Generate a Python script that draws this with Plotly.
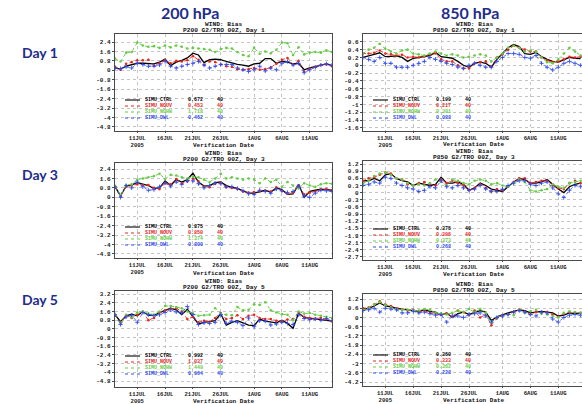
import pandas as pd
import plotly.graph_objects as go

W, H = 582, 404

# Verification dates (00Z), 40 cases
dates = pd.date_range("2005-07-07", periods=40, freq="D")

series_names = ["SIMU_CTRL", "SIMU_NOUV", "SIMU_NOHW", "SIMU_DWL"]
series_colors = ["#000000", "#E8261C", "#66CC44", "#2F4BF0"]
case_count = "40"

# ---- P200, Day 1 ----
p200_d1_ctrl = [0.2, 0.1, 0.35, 0.45, 0.6, 0.6, 0.55, 0.55, 0.7, 0.95,
                0.4, 0.7, 0.85, 1.05, 1.45, 1.3, 0.65, 0.9, 0.95, 0.9,
                0.75, 0.6, 0.5, 0.45, 0.35, 0.55, 0.6, 1.0, 1.0, 0.6,
                0.75, 0.7, 0.55, 0.6, 0.05, 0.2, 0.3, 0.45, 0.55, 0.4]
p200_d1_nouv = [0.3, 0.05, 0.55, 0.7, 0.85, 0.85, 0.9, 0.4, 0.6, 0.85,
                0.6, 0.8, 0.75, 0.85, 1.2, 0.9, 0.45, 0.75, 0.7, 0.5,
                0.35, 0.3, 0.1, 0.05, 0.1, 0.2, 0.05, 0.1, 0.25, 0.55,
                0.9, 1.05, 0.5, 0.8, -0.1, 0.15, 0.3, 0.45, 0.5, 0.35]
p200_d1_nohw = [1.0, 0.75, 1.5, 1.55, 2.35, 2.1, 2.0, 2.05, 1.9, 2.1,
                1.95, 2.1, 2.0, 1.85, 1.9, 1.85, 1.8, 1.75, 1.55, 1.8,
                1.9, 1.85, 1.55, 1.3, 1.2, 1.9, 1.4, 1.6, 1.45, 1.75,
                2.35, 2.3, 1.3, 1.95, 1.35, 1.5, 1.55, 1.5, 1.7, 1.55]
p200_d1_dwl = [0.2, 0.15, 0.3, 0.2, 0.6, 0.5, 0.35, 0.35, 0.45, 0.75,
               0.35, 0.2, 0.35, 0.5, 0.6, 0.75, 0.45, 0.2, 0.35, 0.5,
               0.5, 0.5, 0.2, 0.05, -0.1, 0.05, 0.35, -0.05, 0.2, 0.05,
               0.6, 0.75, 0.45, 0.6, -0.2, 0.05, 0.25, 0.45, 0.55, 0.45]
p200_d1_means = ["0.672", "0.453", "1.718", "0.462"]

# ---- P850, Day 1 ----
p850_d1_ctrl = [0.2, 0.25, 0.28, 0.32, 0.22, 0.23, 0.24, 0.2, 0.1, 0.18,
                0.2, 0.22, 0.25, 0.33, 0.22, 0.2, 0.18, 0.1, 0.0, -0.05,
                0.05, 0.08, 0.05, -0.05, 0.15, 0.3, 0.45, 0.53, 0.48, 0.3,
                0.28, 0.33, 0.22, 0.15, 0.1, 0.08, 0.15, 0.2, 0.18, 0.17]
p850_d1_nouv = [0.3, 0.3, 0.32, 0.38, 0.3, 0.28, 0.25, 0.27, 0.2, 0.22,
                0.2, 0.23, 0.28, 0.3, 0.15, 0.1, 0.1, 0.0, -0.08, -0.08,
                0.05, 0.08, 0.1, -0.03, 0.2, 0.28, 0.4, 0.5, 0.45, 0.4,
                0.35, 0.35, 0.2, 0.12, 0.08, 0.1, 0.15, 0.22, 0.2, 0.22]
p850_d1_nohw = [0.3, 0.4, 0.45, 0.55, 0.42, 0.35, 0.3, 0.38, 0.4, 0.3,
                0.28, 0.25, 0.3, 0.35, 0.3, 0.25, 0.28, 0.25, 0.2, 0.22,
                0.25, 0.28, 0.25, 0.1, 0.2, 0.3, 0.45, 0.5, 0.45, 0.35,
                0.38, 0.35, 0.2, 0.08, 0.05, 0.15, 0.3, 0.45, 0.35, 0.25]
p850_d1_dwl = [0.2, 0.15, 0.1, 0.2, 0.05, 0.05, -0.05, -0.05, -0.05, 0.0,
               0.05, 0.1, 0.2, 0.15, 0.1, 0.05, 0.02, -0.05, -0.08, 0.0,
               0.05, 0.0, -0.05, -0.05, 0.1, 0.2, 0.3, 0.3, 0.28, 0.2,
               0.18, 0.25, 0.05, -0.05, -0.12, -0.05, 0.05, 0.1, 0.05, 0.0]
p850_d1_means = ["0.199", "0.217", "0.301", "0.088"]

# ---- P200, Day 3 ----
p200_d3_ctrl = [0.9, 0.15, 0.95, 1.05, 1.25, 1.1, 1.0, 0.75, 0.8, 1.4,
                1.0, 1.5, 1.3, 1.5, 2.05, 1.3, 0.95, 1.0, 1.25, 1.3,
                1.0, 0.85, 0.75, 0.55, 0.35, 0.35, 0.45, 0.6, 0.45, 0.8,
                0.65, 0.25, 0.3, 1.1, 0.0, 0.5, 0.6, 0.7, 0.65, 0.6]
p200_d3_nouv = [0.85, 0.1, 0.9, 1.0, 1.1, 1.05, 1.05, 0.8, 0.7, 1.2,
                1.1, 1.55, 1.2, 1.35, 1.6, 1.35, 0.9, 0.85, 1.15, 1.25,
                0.85, 0.8, 0.7, 0.5, 0.4, 0.45, 0.5, 0.55, 0.5, 0.85,
                0.55, 0.3, 0.4, 1.0, 0.25, 0.4, 0.5, 0.65, 0.7, 0.6]
p200_d3_nohw = [0.95, 0.2, 1.05, 1.1, 1.5, 1.6, 1.7, 1.8, 2.0, 1.55,
                1.9, 1.85, 1.7, 1.6, 1.75, 1.7, 1.5, 1.3, 1.6, 2.0,
                1.6, 1.7, 1.6, 1.5, 1.6, 1.5, 1.2, 1.6, 1.3, 1.5,
                0.9, 1.3, 1.0, 0.75, 1.2, 1.0, 0.9, 1.1, 1.2, 1.15]
p200_d3_dwl = [0.9, 0.0, 1.0, 0.8, 1.3, 0.9, 0.6, 0.65, 0.9, 1.2,
               0.95, 1.3, 1.1, 1.4, 1.4, 1.15, 0.8, 1.0, 1.2, 1.15,
               0.9, 0.9, 0.75, 0.55, 0.3, 0.25, 0.6, 0.5, 0.35, 0.7,
               0.55, 0.4, 0.5, 0.95, 0.1, 0.0, 0.35, 0.6, 0.55, 0.5]
p200_d3_means = ["0.875", "0.850", "1.374", "0.800"]

# ---- P850, Day 3 ----
p850_d3_ctrl = [0.5, 0.5, 0.6, 0.5, 0.75, 0.8, 0.6, 0.5, 0.45, 0.3,
                0.4, 0.35, 0.3, 0.35, 0.65, 0.4, 0.4, 0.45, 0.35, 0.1,
                0.2, 0.4, 0.3, 0.15, 0.1, 0.05, 0.25, 0.45, 0.6, 0.55,
                0.4, 0.4, 0.45, 0.55, 0.35, 0.15, 0.0, 0.25, 0.35, 0.4]
p850_d3_nouv = [0.5, 0.6, 0.65, 0.75, 0.85, 0.8, 0.6, 0.55, 0.35, 0.3,
                0.4, 0.45, 0.35, 0.3, 0.55, 0.4, 0.5, 0.4, 0.3, 0.1,
                0.2, 0.35, 0.2, 0.05, 0.15, 0.1, 0.25, 0.45, 0.6, 0.6,
                0.4, 0.45, 0.5, 0.5, 0.3, 0.2, 0.15, 0.4, 0.5, 0.4]
p850_d3_nohw = [0.4, 0.5, 0.7, 0.8, 0.85, 0.75, 0.6, 0.55, 0.4, 0.3,
                0.35, 0.3, 0.4, 0.55, 0.45, 0.3, 0.55, 0.5, 0.4, 0.35,
                0.5, 0.55, 0.5, 0.35, 0.4, 0.3, 0.25, 0.4, 0.55, 0.45,
                0.1, 0.05, 0.1, 0.15, 0.35, 0.25, 0.2, 0.4, 0.45, 0.5]
p850_d3_dwl = [0.3, 0.35, 0.45, 0.4, 0.65, 0.6, 0.4, 0.3, 0.2, 0.15,
               0.05, 0.1, 0.25, 0.2, 0.5, 0.25, 0.2, 0.3, 0.2, 0.1,
               0.15, 0.3, 0.15, 0.05, 0.05, 0.15, 0.3, 0.4, 0.5, 0.5,
               0.35, 0.3, 0.4, 0.45, 0.2, -0.05, -0.2, 0.1, 0.3, 0.25]
p850_d3_means = ["0.375", "0.396", "0.373", "0.268"]

# ---- P200, Day 5 ----
p200_d5_ctrl = [1.3, 0.65, 1.2, 1.35, 1.2, 1.6, 1.25, 1.25, 1.5, 1.7,
                1.9, 1.75, 1.3, 1.8, 1.1, 0.45, 0.6, 0.65, 0.75, 1.4,
                0.35, 0.6, 0.75, 0.55, 0.35, 0.3, 0.9, 0.7, 0.6, 0.55,
                0.8, 0.5, 0.05, 1.45, 1.05, 0.95, 0.9, 0.85, 0.8, 0.7]
p200_d5_nouv = [1.2, 0.6, 1.25, 1.0, 1.3, 1.55, 0.8, 1.0, 1.5, 1.7,
                1.85, 1.9, 1.6, 0.9, 1.1, 0.6, 0.75, 0.65, 1.0, 1.45,
                0.9, 1.0, 1.25, 0.9, 1.2, 1.3, 1.0, 0.9, 0.9, 0.75,
                0.7, 0.85, 0.9, 1.45, 1.1, 1.0, 0.95, 1.0, 0.9, 0.7]
p200_d5_nohw = [1.3, 0.5, 1.3, 1.05, 1.5, 1.6, 1.4, 1.3, 1.6, 2.1,
                2.1, 2.0, 1.9, 1.6, 1.4, 1.2, 1.25, 1.3, 1.9, 1.4,
                1.3, 1.25, 2.0, 1.7, 1.75, 2.25, 2.2, 2.45, 1.7, 1.5,
                1.35, 1.3, 0.8, 1.6, 1.4, 1.45, 1.3, 1.2, 1.1, 1.0]
p200_d5_dwl = [1.3, 0.4, 1.1, 1.25, 0.6, 1.5, 1.3, 1.2, 1.3, 1.5,
               1.75, 1.55, 1.5, 2.05, 1.3, 0.4, 0.55, 0.5, 0.6, 1.3,
               0.5, 0.7, 0.6, 0.3, 1.0, 0.2, 0.75, 0.7, 0.35, 0.45,
               0.6, 0.5, 0.4, 1.3, 0.95, 0.85, 0.9, 0.8, 0.95, 0.75]
p200_d5_means = ["0.992", "1.037", "1.449", "0.964"]

# ---- P850, Day 5 ----
p850_d5_ctrl = [0.55, 0.6, 0.75, 0.95, 0.75, 0.7, 0.6, 0.55, 0.5, 0.45,
                0.4, 0.5, 0.4, 0.35, 0.15, 0.3, 0.0, 0.25, 0.35, 0.2,
                0.35, 0.45, 0.35, -0.2, 0.05, 0.2, 0.3, 0.4, 0.5, 0.45,
                0.3, 0.35, 0.4, 0.35, 0.3, 0.1, 0.15, 0.3, 0.25, 0.3]
p850_d5_nouv = [0.6, 0.65, 0.85, 1.05, 0.85, 0.75, 0.6, 0.5, 0.45, 0.5,
                0.35, 0.45, 0.3, 0.25, 0.2, 0.25, 0.05, 0.45, 0.35, 0.15,
                0.45, 0.0, 0.2, -0.5, -0.05, 0.15, 0.2, 0.35, 0.5, 0.35,
                0.2, 0.35, 0.3, 0.35, 0.2, 0.05, 0.25, 0.35, 0.3, 0.3]
p850_d5_nohw = [0.5, 0.6, 0.85, 1.0, 0.8, 0.65, 0.55, 0.5, 0.5, 0.45,
                0.45, 0.55, 0.5, 0.3, 0.25, 0.2, 0.3, 0.45, 0.35, 0.55,
                0.35, 0.55, 0.3, -0.35, 0.0, 0.1, 0.2, 0.15, 0.45, 0.3,
                0.4, 0.5, 0.25, 0.2, 0.1, 0.0, 0.3, 0.4, 0.35, 0.3]
p850_d5_dwl = [0.45, 0.5, 0.6, 0.35, 0.6, 0.55, 0.5, 0.3, 0.3, 0.4,
               0.3, 0.35, 0.25, 0.15, 0.2, -0.3, 0.1, 0.1, 0.0, 0.2,
               0.25, 0.3, 0.1, -0.3, 0.0, 0.1, 0.2, 0.35, 0.45, 0.35,
               0.2, 0.1, 0.35, 0.3, -0.1, -0.3, 0.0, 0.15, 0.2, 0.15]
p850_d5_means = ["0.360", "0.333", "0.362", "0.228"]

# Axis ticks
yticks_200 = [2.4, 1.6, 0.8, 0, -0.8, -1.6, -2.4, -3.2, -4, -4.8]
yticks_200_d5 = [3.2, 2.4, 1.6, 0.8, 0, -0.8, -1.6, -2.4, -3.2, -4, -4.8]
yticks_850_d1 = [0.6, 0.4, 0.2, 0, -0.2, -0.4, -0.6, -0.8, -1, -1.2, -1.4, -1.6]
yticks_850_d3 = [1.2, 0.9, 0.6, 0.3, 0, -0.3, -0.6, -0.9, -1.2, -1.5, -1.8, -2.1, -2.4, -2.7]
yticks_850_d5 = [1.2, 0.6, 0, -0.6, -1.2, -1.8, -2.4, -3, -3.6, -4.2]
xtick_dates = ["2005-07-11", "2005-07-16", "2005-07-21", "2005-07-26",
               "2005-08-01", "2005-08-06", "2005-08-11"]
xtick_text = ["11JUL<br>2005", "16JUL", "21JUL", "26JUL", "1AUG", "6AUG", "11AUG"]

# Panel layout in pixels: (left, right, top, bottom), y-range, x end,
# offset of the "Verification Date" caption below the frame
panels = [
    dict(lev="P200", day=1, data=[p200_d1_ctrl, p200_d1_nouv, p200_d1_nohw, p200_d1_dwl],
         means=p200_d1_means, yt=yticks_200, yr=[-5.14, 3.08], box=(115, 332, 34, 131),
         xend="2005-08-15", xlab=14.5),
    dict(lev="P850", day=1, data=[p850_d1_ctrl, p850_d1_nouv, p850_d1_nohw, p850_d1_dwl],
         means=p850_d1_means, yt=yticks_850_d1, yr=[-1.68, 0.80], box=(363, 582, 34, 131),
         xend="2005-08-15 06:00", xlab=13.5),
    dict(lev="P200", day=3, data=[p200_d3_ctrl, p200_d3_nouv, p200_d3_nohw, p200_d3_dwl],
         means=p200_d3_means, yt=yticks_200, yr=[-5.14, 2.91], box=(115, 332, 163, 258),
         xend="2005-08-15", xlab=15),
    dict(lev="P850", day=3, data=[p850_d3_ctrl, p850_d3_nouv, p850_d3_nohw, p850_d3_dwl],
         means=p850_d3_means, yt=yticks_850_d3, yr=[-2.83, 1.33], box=(363, 582, 161, 260),
         xend="2005-08-15 06:00", xlab=14.5),
    dict(lev="P200", day=5, data=[p200_d5_ctrl, p200_d5_nouv, p200_d5_nohw, p200_d5_dwl],
         means=p200_d5_means, yt=yticks_200_d5, yr=[-5.35, 3.48], box=(115, 332, 291, 387),
         xend="2005-08-15", xlab=14),
    dict(lev="P850", day=5, data=[p850_d5_ctrl, p850_d5_nouv, p850_d5_nohw, p850_d5_dwl],
         means=p850_d5_means, yt=yticks_850_d5, yr=[-4.46, 1.53], box=(363, 582, 294, 386),
         xend="2005-08-15 06:00", xlab=14.6),
]

for p in panels:
    for s in p["data"]:
        assert len(s) == len(dates)


def px(x):
    return x / W


def py(y):
    return 1 - y / H


def label(text, x, y, size, color="#111", family="Liberation Mono", xanchor="center"):
    return dict(text=text, x=px(x), y=py(y), xref="paper", yref="paper",
                xanchor=xanchor, yanchor="middle", showarrow=False,
                font=dict(family=family, size=size, color=color))


MONO = "Liberation Mono"
HEAD_BLUE = "#1F2D8C"
styles = [
    dict(mode="lines", line=dict(color=series_colors[0], width=1.3)),
    dict(mode="lines+markers", line=dict(color=series_colors[1], width=0.9, dash="dot"),
         marker=dict(symbol="circle", size=2.6, color=series_colors[1])),
    dict(mode="lines+markers", line=dict(color=series_colors[2], width=1.0, dash="dot"),
         marker=dict(symbol="circle", size=2.6, color=series_colors[2])),
    dict(mode="lines+markers", line=dict(color=series_colors[3], width=0.8, dash="dot"),
         marker=dict(symbol="cross-thin", size=3, line=dict(color=series_colors[3], width=0.9))),
]
legend_dash = ["solid", "dot", "dot", "dot"]

fig = go.Figure()
annotations = []
shapes = []

for i, p in enumerate(panels, start=1):
    xa = "x" if i == 1 else f"x{i}"
    ya = "y" if i == 1 else f"y{i}"
    for k in range(4):
        fig.add_trace(go.Scatter(x=dates, y=p["data"][k], xaxis=xa, yaxis=ya,
                                 showlegend=False, hoverinfo="skip", **styles[k]))
    left, right, top, bottom = p["box"]
    is_right = right >= W
    axis_common = dict(showgrid=True, griddash="dot", gridcolor="#C4C4C4", gridwidth=0.8,
                       showline=True, linecolor="#4A4A4A", linewidth=1.3,
                       ticks="outside", tickcolor="#4A4A4A", zeroline=False)
    fig.layout[f"xaxis{'' if i == 1 else i}"] = dict(
        type="date", domain=[px(left), px(right)], anchor=ya,
        range=["2005-07-07", p["xend"]], tickvals=xtick_dates, ticktext=xtick_text,
        ticklen=1, mirror=True,
        tickfont=dict(family=MONO, size=5.6, color="#222", weight="bold"), **axis_common)
    fig.layout[f"yaxis{'' if i == 1 else i}"] = dict(
        domain=[py(bottom), py(top)], anchor=xa, range=p["yr"],
        tickvals=p["yt"], ticktext=[f"{v:g}" for v in p["yt"]],
        ticklen=2, mirror=not is_right,
        tickfont=dict(family=MONO, size=6, color="#222", weight="bold"), **axis_common)

    cx = (left + right) / 2 if not is_right else (left + 585) / 2
    annotations.append(label("<b>WIND: Bias</b>", cx, top - 10, 6.2))
    annotations.append(label(f"<b>{p['lev']} G2/TRO 00Z, Day {p['day']}</b>", cx, top - 3.5, 6.2))
    annotations.append(label("<b>Verification Date</b>", cx, bottom + p["xlab"], 6))

    # in-plot legend with mean bias and number of cases
    for k in range(4):
        ry = bottom - [31, 25, 19, 13][k]
        shapes.append(dict(type="line", xref="paper", yref="paper",
                           x0=px(left + 10), x1=px(left + 25), y0=py(ry), y1=py(ry),
                           line=dict(color=series_colors[k], width=1.1 if k == 0 else 1,
                                     dash=legend_dash[k])))
        for txt, off in ((series_names[k], 28), (p["means"][k], 71), (case_count, 100)):
            annotations.append(label(f"<b>{txt}</b>", left + off, ry, 5,
                                     color=series_colors[k], xanchor="left"))

# column and row headings
for txt, x, y in (("200 hPa", 190, 12), ("850 hPa", 470, 12)):
    annotations.append(label(f"<b>{txt}</b>", x, y, 16, color=HEAD_BLUE, family="Lato"))
for txt, y in (("Day 1", 52), ("Day 3", 175), ("Day 5", 299)):
    annotations.append(label(f"<b>{txt}</b>", 40, y, 14, color=HEAD_BLUE, family="Lato"))

fig.update_layout(width=W, height=H, margin=dict(l=0, r=0, t=0, b=0),
                  paper_bgcolor="white", plot_bgcolor="white",
                  annotations=annotations, shapes=shapes, showlegend=False)

fig.write_html("out.html", config={"displayModeBar": False})
